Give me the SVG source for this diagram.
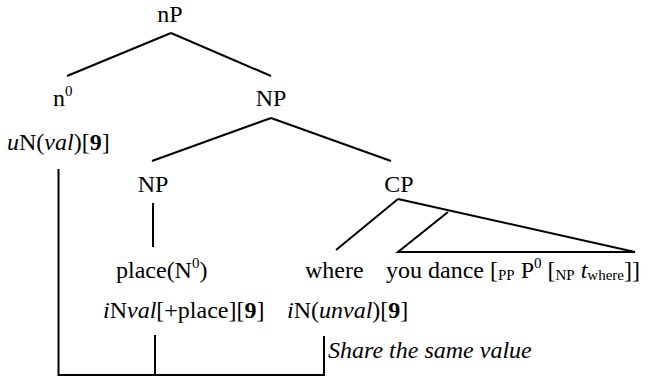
<svg xmlns="http://www.w3.org/2000/svg" width="646" height="377" viewBox="0 0 646 377" font-family="'Liberation Serif', 'DejaVu Serif', serif">
  <style>
    text { font-family: 'Liberation Serif', 'DejaVu Serif', serif; font-size: 24px; fill: #000; }
    .mid { text-anchor: middle; }
    .it { font-style: italic; }
    .b { font-weight: bold; }
    .sm { font-size: 15px; }
    .note { font-size: 24px; font-style: italic; }
    line, polyline { stroke: #000; stroke-width: 2; fill: none; }
  </style>

  <!-- tree branches and the value-sharing bracket -->
  <g id="connectors">
    <line x1="171" y1="33" x2="67" y2="76"/>
    <line x1="171" y1="33" x2="271" y2="76"/>
    <line x1="271" y1="118" x2="152" y2="161"/>
    <line x1="271" y1="118" x2="391" y2="161"/>
    <line x1="153" y1="203" x2="153" y2="247"/>
    <line x1="398" y1="199" x2="336" y2="250"/>
    <polyline points="398,199 635,252 398,252 448,212"/>
    <polyline points="58.5,169 58.5,375 324,375 324,336"/>
    <line x1="155" y1="335" x2="155" y2="375"/>
  </g>

  <g id="nP"><text class="mid" x="170" y="22">nP</text></g>

  <g id="n0">
    <text x="53" y="106">n<tspan class="sm" dy="-10">0</tspan></text>
    <text x="7" y="150"><tspan class="it">u</tspan>N(<tspan class="it">val</tspan>)[<tspan class="b">9</tspan>]</text>
  </g>

  <g id="NP-top"><text class="mid" x="271" y="106">NP</text></g>

  <g id="NP-low"><text class="mid" x="153" y="192">NP</text></g>

  <g id="place">
    <text x="116" y="278">place(N<tspan class="sm" dy="-10">0</tspan><tspan dy="10">)</tspan></text>
    <text x="103" y="318"><tspan class="it">i</tspan>N<tspan class="it">val</tspan>[+place][<tspan class="b">9</tspan>]</text>
  </g>

  <g id="CP"><text class="mid" x="399" y="192">CP</text></g>

  <g id="where">
    <text x="305" y="278">where</text>
    <text x="287" y="318"><tspan class="it">i</tspan>N(<tspan class="it">unval</tspan>)[<tspan class="b">9</tspan>]</text>
  </g>

  <g id="clause">
    <text x="386" y="278">you dance [<tspan class="sm" dy="2">PP</tspan><tspan dy="-2"> P</tspan><tspan class="sm" dy="-10">0</tspan><tspan dy="10"> [</tspan><tspan class="sm" dy="2">NP</tspan><tspan dy="-2"> </tspan><tspan class="it">t</tspan><tspan class="sm" dy="2">where</tspan><tspan dy="-2">]]</tspan></text>
  </g>

  <g id="note"><text class="note" x="328" y="358">Share the same value</text></g>
</svg>
